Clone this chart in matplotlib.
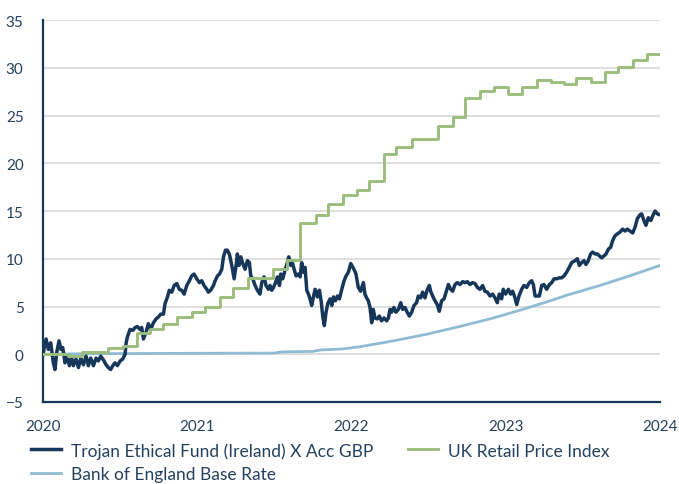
import numpy as np
import matplotlib
matplotlib.use("Agg")
import matplotlib.pyplot as plt

plt.rcParams['font.family'] = ['Lato', 'DejaVu Sans']

NAVY = "#17375a"
TEXT = "#24405e"
GREEN = "#9bbe7d"
BLUE = "#8fbcd4"
GRID = "#d9d9d9"

# Trojan Ethical Fund: years since start of 2020, cumulative % return
fund_t = [0.000, 0.020, 0.035, 0.050, 0.067, 0.078, 0.089, 0.104, 0.117, 0.128,
          0.143, 0.158, 0.171, 0.186, 0.197, 0.214, 0.230, 0.245, 0.262, 0.279,
          0.294, 0.309, 0.327, 0.344, 0.359, 0.374, 0.392, 0.409, 0.424, 0.439,
          0.452, 0.467, 0.482, 0.500, 0.517, 0.532, 0.539, 0.547, 0.564, 0.582,
          0.597, 0.612, 0.629, 0.640, 0.651, 0.668, 0.683, 0.698, 0.716, 0.733,
          0.748, 0.763, 0.781, 0.791, 0.807, 0.819, 0.835, 0.850, 0.867, 0.884,
          0.899, 0.915, 0.932, 0.949, 0.964, 0.979, 0.997, 1.014, 1.029, 1.044,
          1.062, 1.072, 1.087, 1.105, 1.116, 1.131, 1.144, 1.159, 1.170, 1.183,
          1.195, 1.208, 1.224, 1.239, 1.252, 1.260, 1.271, 1.282, 1.295, 1.310,
          1.325, 1.338, 1.347, 1.360, 1.375, 1.390, 1.407, 1.418, 1.433, 1.446,
          1.461, 1.472, 1.483, 1.494, 1.505, 1.520, 1.533, 1.541, 1.554, 1.569,
          1.584, 1.593, 1.606, 1.619, 1.628, 1.641, 1.656, 1.667, 1.677, 1.688,
          1.699, 1.710, 1.721, 1.731, 1.742, 1.753, 1.764, 1.779, 1.792, 1.803,
          1.814, 1.824, 1.835, 1.846, 1.861, 1.872, 1.883, 1.896, 1.909, 1.922,
          1.937, 1.952, 1.965, 1.980, 1.995, 2.016, 2.029, 2.044, 2.059, 2.077,
          2.087, 2.098, 2.109, 2.120, 2.131, 2.141, 2.152, 2.167, 2.180, 2.195,
          2.211, 2.228, 2.239, 2.250, 2.260, 2.275, 2.288, 2.304, 2.319, 2.332,
          2.347, 2.358, 2.375, 2.390, 2.405, 2.422, 2.433, 2.448, 2.461, 2.476,
          2.492, 2.505, 2.513, 2.526, 2.541, 2.556, 2.569, 2.584, 2.600, 2.613,
          2.628, 2.643, 2.656, 2.671, 2.686, 2.703, 2.721, 2.736, 2.751, 2.768,
          2.785, 2.801, 2.816, 2.833, 2.850, 2.865, 2.881, 2.898, 2.915, 2.930,
          2.945, 2.958, 2.973, 2.984, 2.999, 3.017, 3.032, 3.045, 3.060, 3.071,
          3.086, 3.103, 3.118, 3.136, 3.153, 3.168, 3.179, 3.190, 3.205, 3.218,
          3.233, 3.248, 3.265, 3.283, 3.298, 3.313, 3.330, 3.347, 3.362, 3.378,
          3.395, 3.412, 3.427, 3.449, 3.464, 3.477, 3.492, 3.507, 3.520, 3.535,
          3.550, 3.563, 3.579, 3.594, 3.607, 3.622, 3.637, 3.650, 3.665, 3.680,
          3.693, 3.708, 3.723, 3.741, 3.758, 3.773, 3.788, 3.805, 3.823, 3.838,
          3.853, 3.870, 3.881, 3.896, 3.909, 3.924, 3.940, 3.953, 3.968, 3.983,
          4.000]
fund_v = [0.0, 1.6, 0.5, 1.2, -0.9, -1.6, 0.2, 1.4, 0.5, 0.7,
          -0.9, -0.2, -1.2, -0.4, -1.2, -0.5, -1.4, -0.4, -1.1, -0.2,
          -1.2, -0.4, -1.2, -0.4, -0.7, -0.2, -0.6, -1.1, -1.4, -1.6,
          -1.2, -0.9, -1.2, -0.7, -0.5, 0.0, 1.2, 1.8, 2.6, 2.5,
          2.8, 2.9, 2.6, 2.8, 1.6, 2.3, 3.2, 2.6, 3.3, 3.7,
          3.9, 4.2, 4.2, 5.3, 6.0, 6.7, 6.5, 7.2, 7.4, 6.8,
          6.7, 6.3, 7.2, 7.7, 8.2, 8.4, 7.9, 7.5, 7.7, 7.2,
          6.8, 6.5, 6.7, 7.2, 7.7, 8.2, 8.4, 8.9, 10.2, 10.9,
          10.9, 10.5, 9.3, 7.9, 9.3, 10.5, 9.3, 10.2, 9.5, 8.9,
          9.8, 9.6, 8.2, 7.9, 7.2, 6.7, 6.3, 7.5, 8.1, 7.2,
          6.8, 7.2, 6.7, 7.0, 7.4, 8.1, 7.2, 8.4, 7.9, 8.8,
          9.6, 10.2, 9.3, 9.5, 8.9, 8.2, 8.4, 8.1, 9.6, 8.6,
          9.1, 6.7, 6.3, 5.8, 5.1, 6.0, 6.8, 6.0, 6.7, 5.6,
          3.9, 3.0, 4.4, 5.3, 5.8, 5.1, 6.0, 5.6, 6.1, 5.8,
          6.8, 7.7, 8.2, 8.6, 9.5, 8.9, 8.4, 7.0, 6.6, 7.5,
          6.3, 5.9, 5.6, 4.9, 3.3, 4.7, 3.8, 3.7, 4.0, 3.5,
          3.8, 3.5, 3.8, 4.7, 4.4, 4.9, 4.4, 4.7, 5.4, 4.7,
          4.9, 4.5, 4.0, 4.4, 5.1, 5.4, 6.1, 5.9, 6.5, 5.9,
          6.8, 7.2, 6.6, 6.1, 5.6, 5.2, 4.5, 5.6, 5.8, 6.5,
          7.3, 6.8, 6.6, 7.3, 7.5, 7.3, 7.6, 7.5, 7.6, 7.3,
          7.5, 7.4, 7.0, 6.8, 7.2, 6.6, 6.5, 6.1, 6.3, 5.9,
          5.4, 6.3, 5.8, 6.8, 6.3, 6.8, 6.3, 6.6, 5.9, 5.2,
          6.1, 6.8, 7.2, 7.0, 7.5, 7.7, 7.3, 6.1, 6.1, 6.1,
          7.2, 7.3, 6.8, 7.3, 7.5, 7.9, 7.9, 8.0, 8.0, 8.2,
          8.6, 9.1, 9.6, 9.8, 10.0, 9.3, 9.6, 9.8, 9.4, 9.8,
          10.5, 10.7, 10.5, 10.5, 10.3, 10.1, 10.3, 10.5, 11.0, 11.2,
          11.9, 12.4, 12.6, 12.8, 13.1, 12.9, 13.1, 12.9, 12.7, 13.3,
          14.2, 14.6, 14.7, 14.0, 13.5, 14.3, 14.0, 14.5, 15.0, 14.7,
          14.6]

# UK Retail Price Index: step changes (months since Jan 2020, cumulative %)
rpi_month = [0.0, 1.97, 3.0, 5.08, 6.25, 7.29, 8.32, 9.36, 10.4, 11.57,
             12.6, 13.77, 14.76, 15.97, 17.92, 19.0, 20.0, 21.2, 22.2, 23.3,
             24.4, 25.4, 26.5, 27.5, 28.7, 30.7, 31.9, 32.8, 34.0, 35.1,
             36.2, 37.3, 38.4, 39.5, 40.5, 41.5, 42.6, 43.7, 44.7, 45.9,
             47.0, 48.0]
rpi_v = [0.0, -0.2, 0.25, 0.7, 0.9, 2.2, 2.6, 3.2, 3.9, 4.4,
         4.9, 6.0, 6.9, 8.0, 8.9, 9.9, 13.7, 14.6, 15.7, 16.7,
         17.2, 18.1, 21.0, 21.7, 22.5, 23.9, 24.8, 26.8, 27.6, 28.0,
         27.2, 28.0, 28.7, 28.5, 28.3, 28.9, 28.5, 29.6, 30.1, 30.8,
         31.4, 31.4]

# Bank of England Base Rate (cumulative %)
boe_t = [0.0, 0.25, 0.5, 1.0, 1.5, 1.55, 1.75, 1.8, 1.94, 2.06,
         2.27, 2.49, 2.70, 2.92, 3.09, 3.25, 3.40, 3.61, 3.82, 4.0]
boe_v = [0.0, 0.05, 0.07, 0.1, 0.12, 0.25, 0.3, 0.45, 0.55, 0.8,
         1.4, 2.1, 2.9, 3.8, 4.6, 5.4, 6.2, 7.2, 8.3, 9.3]

years = [2020, 2021, 2022, 2023, 2024]
yticks = [-5, 0, 5, 10, 15, 20, 25, 30, 35]

fig = plt.figure(figsize=(6.79, 4.85), dpi=100)
ax = fig.add_axes([43 / 679, 1 - 403 / 485, 617 / 679, 382 / 485])

start = years[0]
l_boe, = ax.plot(start + np.array(boe_t), boe_v, color=BLUE, lw=2.0,
                 label="Bank of England Base Rate", zorder=3)
l_fund, = ax.plot(start + np.array(fund_t), fund_v, color=NAVY, lw=2.5,
                  label="Trojan Ethical Fund (Ireland) X Acc GBP", zorder=4)
l_rpi, = ax.step(start + np.array(rpi_month) / 12, rpi_v, where="post",
                 color=GREEN, lw=2.1, label="UK Retail Price Index", zorder=5)

ax.set_xlim(years[0], years[-1])
ax.set_ylim(yticks[0], yticks[-1])
ax.set_xticks(years)
ax.set_xticklabels([str(y) for y in years])
ax.set_yticks(yticks)
ax.yaxis.grid(True, color=GRID, lw=1.2)
ax.set_axisbelow(True)

for s in ["top", "right"]:
    ax.spines[s].set_visible(False)
for s in ["left", "bottom"]:
    ax.spines[s].set_color(NAVY)
    ax.spines[s].set_linewidth(1.6)

ax.tick_params(axis="both", length=0, labelsize=11, labelcolor=TEXT)
ax.tick_params(axis="y", pad=14)
ax.tick_params(axis="x", pad=12)

fig.legend(handles=[l_fund, l_boe, l_rpi], ncol=2, frameon=False,
           loc="upper left", bbox_to_anchor=(31 / 679, 1 - 443 / 485),
           borderaxespad=0, borderpad=0, fontsize=12.5, labelcolor=TEXT,
           handlelength=1.75, handletextpad=0.55, columnspacing=2.0,
           labelspacing=0.45)

fig.savefig("out.png", dpi=100)
